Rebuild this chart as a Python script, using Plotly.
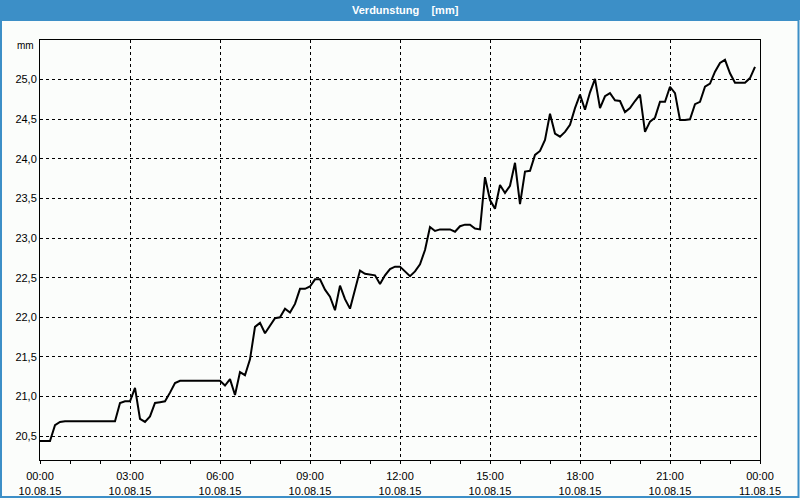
import pandas as pd
import plotly.graph_objects as go

title_text = "Verdunstung    [mm]"
unit_label = "mm"

# 10-minute readings, 10.08.15 00:00 .. 23:50
start_time = "2015-08-10 00:00"
end_time = "2015-08-11 00:00"
values = [
    20.44, 20.44, 20.44, 20.64, 20.68, 20.69, 20.69, 20.69, 20.69, 20.69,
    20.69, 20.69, 20.69, 20.69, 20.69, 20.69, 20.92, 20.94, 20.94, 21.11,
    20.72, 20.68, 20.75, 20.92, 20.93, 20.94, 21.05, 21.17, 21.20, 21.20,
    21.20, 21.20, 21.20, 21.20, 21.20, 21.20, 21.20, 21.14, 21.22, 21.02,
    21.31, 21.27, 21.47, 21.88, 21.93, 21.80, 21.89, 21.99, 22.00, 22.11,
    22.06, 22.17, 22.36, 22.36, 22.39, 22.48, 22.48, 22.35, 22.26, 22.09,
    22.40, 22.23, 22.11, 22.35, 22.59, 22.55, 22.54, 22.53, 22.42, 22.53,
    22.61, 22.64, 22.64, 22.58, 22.52, 22.58, 22.67, 22.85, 23.14, 23.09,
    23.11, 23.11, 23.11, 23.08, 23.15, 23.17, 23.17, 23.12, 23.11, 23.77,
    23.48, 23.37, 23.67, 23.57, 23.66, 23.95, 23.43, 23.84, 23.85, 24.05,
    24.10, 24.24, 24.57, 24.32, 24.28, 24.34, 24.43, 24.64, 24.81, 24.62,
    24.84, 25.01, 24.64, 24.79, 24.83, 24.74, 24.73, 24.59, 24.64, 24.73,
    24.81, 24.34, 24.47, 24.52, 24.72, 24.72, 24.91, 24.83, 24.49, 24.49,
    24.50, 24.69, 24.72, 24.91, 24.95, 25.10, 25.21, 25.25, 25.08, 24.96,
    24.96, 24.96, 25.02, 25.16,
]
times = pd.date_range(start_time, periods=len(values), freq="10min")

x_tick_times = pd.date_range(start_time, end_time, freq="3h")
x_tick_labels = [t.strftime("%H:%M") + "<br>" + t.strftime("%d.%m.%y") for t in x_tick_times]
y_tick_values = [20.5, 21.0, 21.5, 22.0, 22.5, 23.0, 23.5, 24.0, 24.5, 25.0]
y_range = [20.2, 25.5]

W, H = 800, 500
L, R, T, B = 40, 40, 40, 40
pw, ph = W - L - R, H - T - B

def px_x(p):
    return (p - L) / pw

def px_y(p):
    return 1 - (p - T) / ph

blue = "#3c8fc7"
bg = "#fbfdfb"

fig = go.Figure()
fig.add_trace(go.Scatter(
    x=times, y=values, mode="lines",
    line=dict(color="black", width=2),
    hoverinfo="x+y", showlegend=False,
))

font = dict(family="Liberation Sans, Arial, sans-serif", size=11, color="#000000")

fig.update_layout(
    width=W, height=H,
    margin=dict(l=L, r=R, t=T, b=B, autoexpand=False),
    paper_bgcolor=bg, plot_bgcolor=bg,
    separators=",.",
    font=font,
    showlegend=False,
    xaxis=dict(
        type="date",
        range=[start_time, end_time],
        automargin=False,
        tickmode="array",
        tickvals=x_tick_times,
        ticktext=x_tick_labels,
        ticks="outside", ticklen=3, tickcolor="black",
        ticklabelstandoff=3,
        showgrid=True, gridcolor="black", gridwidth=1, griddash="3px,3px",
        showline=True, linecolor="black", linewidth=1, mirror=True,
        zeroline=False,
        minor=dict(tickmode="linear", tick0=start_time, dtick=3600000,
                   ticks="outside", ticklen=3, tickcolor="black", showgrid=False),
        tickfont=font,
    ),
    yaxis=dict(
        range=y_range,
        automargin=False,
        tickmode="array",
        tickvals=y_tick_values,
        tickformat=".1f",
        ticks="",
        showgrid=True, gridcolor="black", gridwidth=1, griddash="3px,3px",
        showline=True, linecolor="black", linewidth=1, mirror=True,
        zeroline=False,
        tickfont=font,
    ),
    shapes=[
        dict(type="rect", xref="paper", yref="paper",
             x0=px_x(0), x1=px_x(W), y0=px_y(0), y1=px_y(20),
             fillcolor=blue, line=dict(width=0), layer="below"),
        dict(type="rect", xref="paper", yref="paper",
             x0=px_x(1), x1=px_x(798.5), y0=px_y(20), y1=px_y(497),
             fillcolor="rgba(0,0,0,0)", line=dict(color=blue, width=2), layer="above"),
    ],
    annotations=[
        dict(text="<b>" + title_text + "</b>", xref="paper", yref="paper",
             x=px_x(405), y=px_y(10), showarrow=False,
             font=dict(family="Liberation Sans, Arial, sans-serif", size=11, color="white"),
             xanchor="center", yanchor="middle"),
        dict(text=unit_label, xref="paper", yref="paper",
             x=px_x(36), y=px_y(46), showarrow=False,
             font=dict(family="Liberation Sans, Arial, sans-serif", size=10, color="black"),
             xanchor="right", yanchor="middle"),
    ],
)

fig.write_html("out.html")
